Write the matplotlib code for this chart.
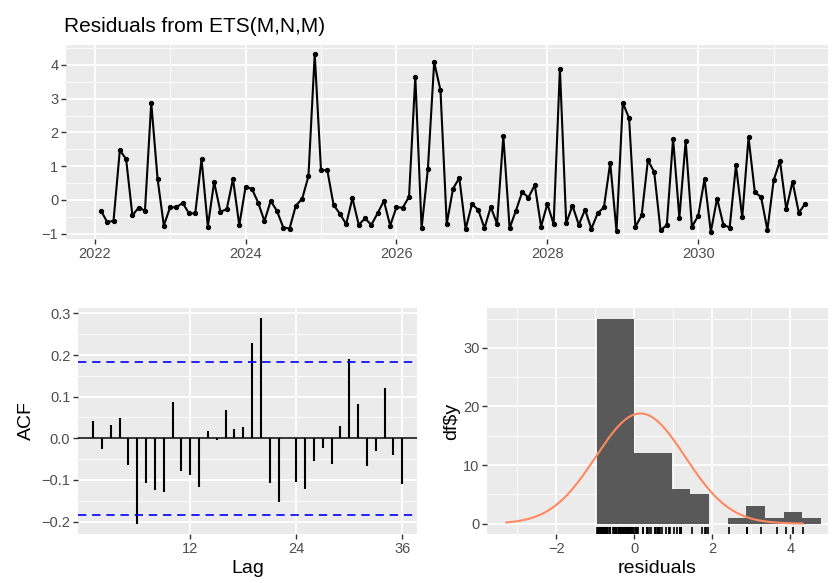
"""Residual diagnostics for the ETS(M,N,M) fit: time plot, ACF and histogram."""

import numpy as np
import matplotlib

matplotlib.use("Agg")
import matplotlib.pyplot as plt
from matplotlib.ticker import MultipleLocator, FixedLocator
from matplotlib.transforms import blended_transform_factory

plt.rcParams["font.family"] = ["Liberation Sans", "DejaVu Sans"]

# monthly residuals, first observation Feb 2022
start_year = 2022
start_month = 2
residuals = [
    -0.32, -0.66, -0.62, 1.47, 1.21, -0.46, -0.23, -0.32, 2.88, 0.63, -0.76,
    -0.22, -0.22, -0.09, -0.40, -0.40, 1.21, -0.79, 0.53, -0.35, -0.28, 0.62,
    -0.75, 0.38, 0.33, -0.08, -0.63, -0.03, -0.33, -0.82, -0.85, -0.17, 0.03,
    0.70, 4.32, 0.88, 0.88, -0.15, -0.41, -0.72, 0.05, -0.74, -0.55, -0.74,
    -0.40, -0.03, -0.76, -0.22, -0.23, 0.09, 3.65, -0.84, 0.92, 4.08, 3.25,
    -0.71, 0.33, 0.65, -0.87, -0.13, -0.29, -0.84, -0.21, -0.71, 1.89, -0.84,
    -0.32, 0.23, 0.07, 0.44, -0.79, -0.12, -0.72, 3.89, -0.69, -0.17, -0.74,
    -0.29, -0.86, -0.40, -0.22, 1.10, -0.93, 2.88, 2.42, -0.80, -0.46, 1.18,
    0.82, -0.90, -0.75, 1.81, -0.53, 1.74, -0.80, -0.47, 0.62, -0.95, 0.04,
    -0.74, -0.82, 1.02, -0.52, 1.85, 0.23, 0.08, -0.89, 0.58, 1.16, -0.28,
    0.54, -0.38, -0.12,
]

acf_lags = list(range(1, 37))
acf_values = [
    0.042, -0.025, 0.032, 0.049, -0.064, -0.205, -0.108, -0.125, -0.128,
    0.086, -0.078, -0.089, -0.116, 0.018, -0.005, 0.068, 0.022, 0.026,
    0.229, 0.289, -0.108, -0.152, 0.001, -0.105, -0.122, -0.054, -0.024,
    -0.061, 0.029, 0.190, 0.083, -0.066, -0.030, 0.121, -0.041, -0.110,
]

n_bins = 12

PANEL_BG = "#EBEBEB"
TICK_TEXT = "#4D4D4D"


def style_panel(ax):
    ax.set_facecolor(PANEL_BG)
    for spine in ax.spines.values():
        spine.set_visible(False)
    ax.set_axisbelow(True)
    ax.grid(which="major", color="white", linewidth=1.3)
    ax.grid(which="minor", color="white", linewidth=0.6)
    ax.tick_params(which="major", length=3.5, width=1.0, color="#333333",
                   labelcolor=TICK_TEXT, labelsize=10.5, pad=2)
    ax.tick_params(which="minor", length=0)


res = np.array(residuals)
n = len(res)
t = start_year + (start_month - 1 + np.arange(n)) / 12.0

W, H = 832, 583
fig = plt.figure(figsize=(W / 100, H / 100), dpi=100)


def panel(left, top, right, bottom):
    return fig.add_axes([left / W, 1 - bottom / H, (right - left) / W,
                         (bottom - top) / H])


# time plot
ax_ts = panel(66, 45, 828, 239)
style_panel(ax_ts)
ax_ts.plot(t, res, color="black", linewidth=1.5, marker="o", markersize=2.8)
ax_ts.set_xlim(2021.62, 2031.72)
ax_ts.set_ylim(-1.16, 4.59)
ax_ts.xaxis.set_major_locator(FixedLocator([2022, 2024, 2026, 2028, 2030]))
ax_ts.xaxis.set_minor_locator(FixedLocator([2023, 2025, 2027, 2029, 2031]))
ax_ts.yaxis.set_major_locator(MultipleLocator(1))
ax_ts.yaxis.set_minor_locator(MultipleLocator(0.5))
ax_ts.set_title("Residuals from ETS(M,N,M)", loc="left", fontsize=15,
                pad=9, x=-0.002)

# ACF
ax_acf = panel(78, 308, 417, 534)
style_panel(ax_acf)
ax_acf.vlines(acf_lags, 0, acf_values, color="black", linewidth=1.5)
ax_acf.axhline(0, color="black", linewidth=1.1)
ci = 1.96 / np.sqrt(n)
for level in (ci, -ci):
    ax_acf.axhline(level, color="blue", linewidth=1.2, linestyle=(0, (5, 3.5)))
ax_acf.set_xlim(-0.7, 37.67)
ax_acf.set_ylim(-0.23, 0.313)
ax_acf.xaxis.set_major_locator(FixedLocator([12, 24, 36]))
ax_acf.yaxis.set_major_locator(MultipleLocator(0.1))
ax_acf.yaxis.set_minor_locator(MultipleLocator(0.05))
ax_acf.yaxis.set_major_formatter(
    lambda v, pos: f"{v:.1f}".replace("-", "\u2212"))
ax_acf.set_xlabel("Lag", fontsize=14, labelpad=3)
ax_acf.set_ylabel("ACF", fontsize=14, labelpad=5)

# histogram with normal curve and rug
ax_h = panel(487, 308, 828, 534)
style_panel(ax_h)
width = (res.max() - res.min()) / (n_bins - 1)
origin = np.floor(res.min() / width) * width
edges = origin + width * np.arange(n_bins + 1)
ax_h.hist(res, bins=edges, color="#595959", zorder=2)

mu, sd = res.mean(), res.std(ddof=1)
xg = np.linspace(min(mu - 3 * sd, res.min()), max(mu + 3 * sd, res.max()), 512)
dens = np.exp(-0.5 * ((xg - mu) / sd) ** 2) / (sd * np.sqrt(2 * np.pi))
ax_h.plot(xg, dens * n * width, color="#ff8a62", linewidth=1.5, zorder=3)

rug = blended_transform_factory(ax_h.transData, ax_h.transAxes)
ax_h.vlines(res, 0, 0.03, transform=rug, color="black", linewidth=1.2,
            zorder=3)
ax_h.set_xlim(-3.78, 4.97)
ax_h.set_ylim(-1.76, 36.8)
ax_h.xaxis.set_major_locator(FixedLocator([-2, 0, 2, 4]))
ax_h.xaxis.set_minor_locator(FixedLocator([-3, -1, 1, 3]))
ax_h.yaxis.set_major_locator(MultipleLocator(10))
ax_h.yaxis.set_minor_locator(MultipleLocator(5))
ax_h.xaxis.set_major_formatter(lambda v, pos: f"{v:g}".replace("-", "\u2212"))
ax_h.set_xlabel("residuals", fontsize=14, labelpad=3)
ax_h.set_ylabel("df$y", fontsize=14, labelpad=2)

fig.savefig("out.png", dpi=100, facecolor="white")
